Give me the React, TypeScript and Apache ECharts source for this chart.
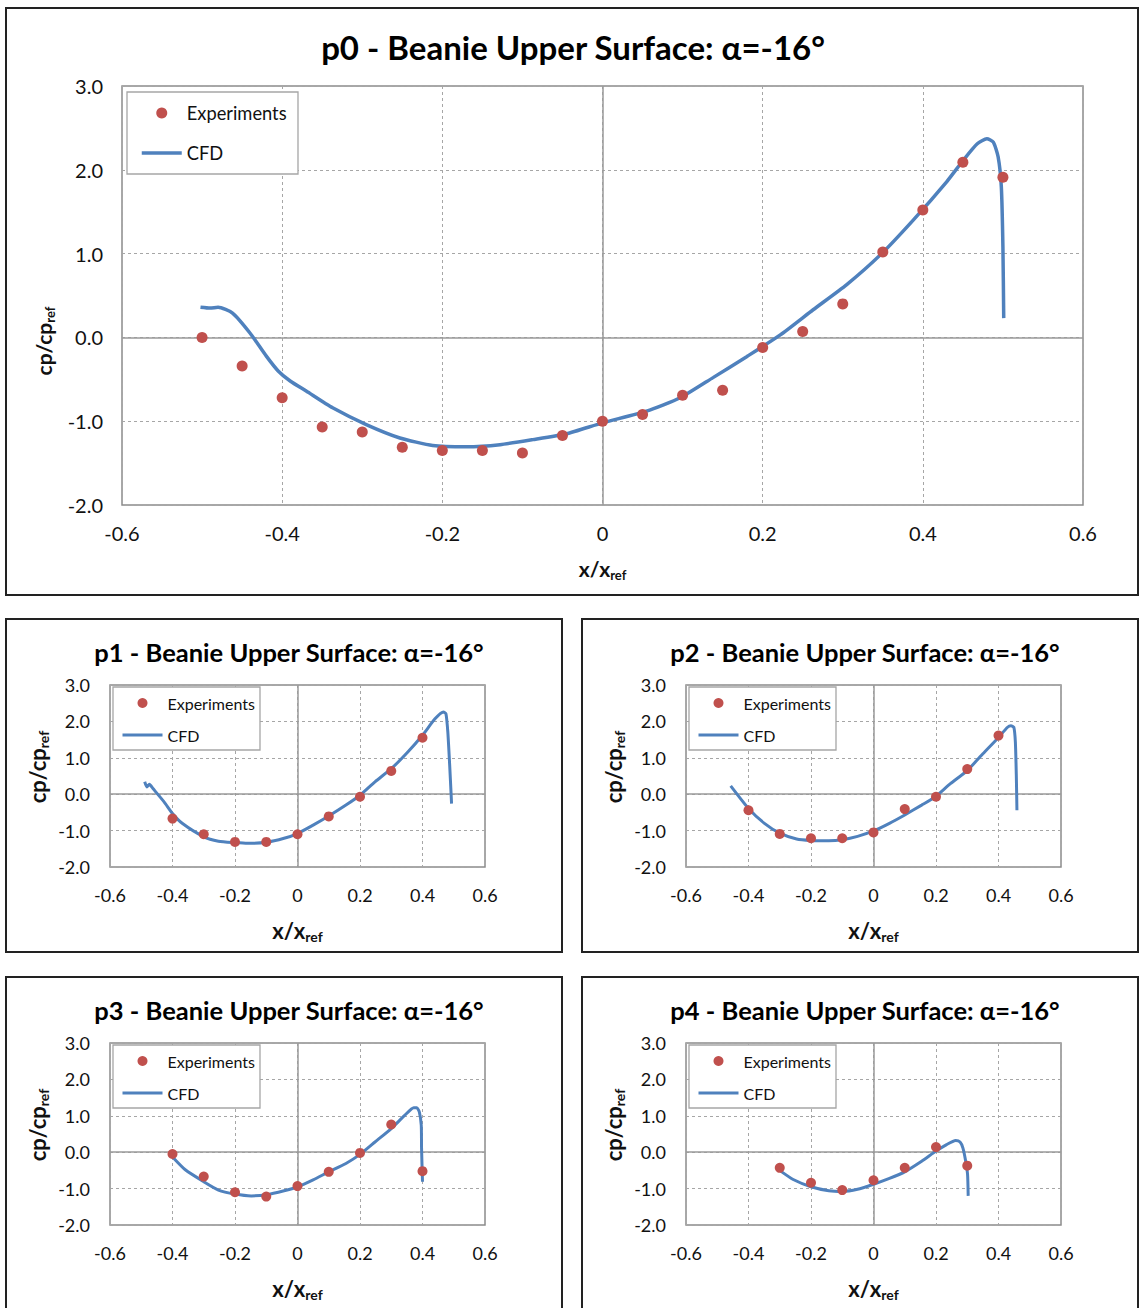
import React, { useEffect, useRef } from "react";
import * as echarts from "echarts";

// ---------- DATA ----------
const xTicks = [-0.6, -0.4, -0.2, 0, 0.2, 0.4, 0.6];
const yTicks = [-2, -1, 0, 1, 2, 3];
const panelTitles = [
  "p0 - Beanie Upper Surface: α=-16°",
  "p1 - Beanie Upper Surface: α=-16°",
  "p2 - Beanie Upper Surface: α=-16°",
  "p3 - Beanie Upper Surface: α=-16°",
  "p4 - Beanie Upper Surface: α=-16°",
];
const seriesNames = ["Experiments", "CFD"];

const p0ExpX = [-0.5, -0.45, -0.4, -0.35, -0.3, -0.25, -0.2, -0.15, -0.1, -0.05, 0, 0.05, 0.1, 0.15, 0.2, 0.25, 0.3, 0.35, 0.4, 0.45, 0.5];
const p0ExpY = [0.0, -0.34, -0.72, -1.07, -1.13, -1.31, -1.35, -1.35, -1.38, -1.17, -1.0, -0.92, -0.69, -0.63, -0.12, 0.07, 0.4, 1.02, 1.52, 2.09, 1.91];
const p0CfdX = [-0.502, -0.49, -0.48, -0.462, -0.44, -0.42, -0.405, -0.39, -0.37, -0.337, -0.295, -0.253, -0.212, -0.17, -0.128, -0.087, -0.045, 0.0, 0.055, 0.097, 0.138, 0.18, 0.222, 0.263, 0.305, 0.347, 0.388, 0.43, 0.451, 0.468, 0.48, 0.488, 0.494, 0.498, 0.5, 0.501];
const p0CfdY = [0.36, 0.35, 0.36, 0.29, 0.05, -0.22, -0.4, -0.52, -0.64, -0.84, -1.04, -1.2, -1.29, -1.305, -1.28, -1.22, -1.15, -1.02, -0.88, -0.72, -0.48, -0.23, 0.03, 0.33, 0.63, 0.985, 1.4, 1.86, 2.12, 2.31, 2.37, 2.33, 2.155, 1.8, 1.08, 0.23];

const p1ExpX = [-0.4, -0.3, -0.2, -0.1, 0, 0.1, 0.2, 0.3, 0.4];
const p1ExpY = [-0.67, -1.1, -1.31, -1.31, -1.1, -0.61, -0.07, 0.64, 1.55];
const p1CfdX = [-0.489, -0.482, -0.474, -0.4625, -0.427, -0.4, -0.369, -0.3, -0.253, -0.2, -0.16, -0.1, -0.043, 0, 0.05, 0.1, 0.155, 0.2, 0.248, 0.3, 0.353, 0.4, 0.44, 0.467, 0.475, 0.481, 0.487, 0.493];
const p1CfdY = [0.34, 0.2, 0.27, 0.155, -0.21, -0.53, -0.8, -1.17, -1.29, -1.33, -1.35, -1.32, -1.21, -1.08, -0.85, -0.6, -0.3, -0.03, 0.34, 0.7, 1.16, 1.62, 2.07, 2.26, 2.21, 1.71, 0.79, -0.26];

const p2ExpX = [-0.4, -0.3, -0.2, -0.1, 0, 0.1, 0.2, 0.3, 0.4];
const p2ExpY = [-0.44, -1.09, -1.21, -1.21, -1.05, -0.41, -0.07, 0.69, 1.61];
const p2CfdX = [-0.457, -0.4, -0.349, -0.3, -0.246, -0.2, -0.143, -0.1, -0.051, 0, 0.051, 0.1, 0.154, 0.198, 0.246, 0.3, 0.35, 0.4, 0.429, 0.44, 0.449, 0.454, 0.457, 0.459];
const p2CfdY = [0.23, -0.39, -0.8, -1.07, -1.23, -1.27, -1.28, -1.25, -1.16, -1.01, -0.8, -0.57, -0.3, -0.07, 0.29, 0.65, 1.11, 1.56, 1.84, 1.88, 1.84, 1.43, 0.52, -0.44];

const p3ExpX = [-0.4, -0.3, -0.2, -0.1, 0, 0.1, 0.2, 0.3, 0.4];
const p3ExpY = [-0.05, -0.67, -1.1, -1.22, -0.93, -0.54, -0.02, 0.76, -0.52];
const p3CfdX = [-0.4, -0.358, -0.3, -0.253, -0.2, -0.148, -0.1, -0.043, 0, 0.05, 0.1, 0.155, 0.2, 0.248, 0.3, 0.343, 0.372, 0.382, 0.39, 0.396, 0.397, 0.4];
const p3CfdY = [-0.13, -0.49, -0.81, -1.04, -1.15, -1.2, -1.17, -1.06, -0.95, -0.76, -0.54, -0.31, -0.06, 0.28, 0.65, 1.01, 1.22, 1.22, 1.1, 0.74, 0.1, -0.81];

const p4ExpX = [-0.3, -0.2, -0.1, 0, 0.1, 0.2, 0.3];
const p4ExpY = [-0.43, -0.84, -1.04, -0.77, -0.43, 0.14, -0.37];
const p4CfdX = [-0.297, -0.257, -0.2, -0.143, -0.1, -0.051, 0, 0.051, 0.1, 0.154, 0.2, 0.234, 0.263, 0.277, 0.286, 0.294, 0.301, 0.303];
const p4CfdY = [-0.52, -0.75, -0.95, -1.06, -1.08, -1.02, -0.88, -0.72, -0.54, -0.25, 0.03, 0.21, 0.32, 0.28, 0.12, -0.2, -0.61, -1.2];

const expXs = [p0ExpX, p1ExpX, p2ExpX, p3ExpX, p4ExpX];
const expYs = [p0ExpY, p1ExpY, p2ExpY, p3ExpY, p4ExpY];
const cfdXs = [p0CfdX, p1CfdX, p2CfdX, p3CfdX, p4CfdX];
const cfdYs = [p0CfdY, p1CfdY, p2CfdY, p3CfdY, p4CfdY];

// ---------- LAYOUT / STYLE ----------
const FONT = 'Lato, "Liberation Sans", "DejaVu Sans", sans-serif';
const RED = "#C0504D";
const BLUE = "#4F81BD";
const GRID_GRAY = "#a6a6a6";
const TEXT = "#111";

type Layout = {
  grid: { left: number; top: number; width: number; height: number };
  box: [number, number, number, number];
  legendBox: [number, number, number, number];
  legendPos: [number, number];
  titlePos: [number, number];
  big: boolean;
};

const layouts: Layout[] = [
  { grid: { left: 122, top: 86, width: 961, height: 419 }, box: [6, 8, 1132, 587], legendBox: [127, 92, 171, 82], legendPos: [140, 103], titlePos: [573, 29], big: true },
  { grid: { left: 110, top: 685, width: 375, height: 182 }, box: [6, 619, 556, 333], legendBox: [113, 687, 147, 63], legendPos: [121, 694], titlePos: [289, 637], big: false },
  { grid: { left: 686, top: 685, width: 375, height: 182 }, box: [582, 619, 556, 333], legendBox: [689, 687, 147, 63], legendPos: [697, 694], titlePos: [865, 637], big: false },
  { grid: { left: 110, top: 1043, width: 375, height: 182 }, box: [6, 977, 556, 340], legendBox: [113, 1045, 147, 63], legendPos: [121, 1052], titlePos: [289, 995], big: false },
  { grid: { left: 686, top: 1043, width: 375, height: 182 }, box: [582, 977, 556, 340], legendBox: [689, 1045, 147, 63], legendPos: [697, 1052], titlePos: [865, 995], big: false },
];

function buildOption() {
  const title: any[] = [];
  const grid: any[] = [];
  const xAxis: any[] = [];
  const yAxis: any[] = [];
  const legend: any[] = [];
  const series: any[] = [];
  const graphic: any[] = [];

  layouts.forEach((L, i) => {
    const big = L.big;
    const nameSize = big ? 21 : 22;
    const subSize = big ? 13 : 14;
    title.push({
      text: panelTitles[i],
      left: L.titlePos[0],
      top: L.titlePos[1],
      textAlign: "center",
      padding: 0,
      textStyle: {
        fontFamily: FONT,
        fontWeight: "bold",
        fontSize: big ? 33 : 25.5,
        lineHeight: big ? 36 : 30,
        color: "#000",
      },
    });
    grid.push({
      ...L.grid,
      show: true,
      borderColor: "#8c8c8c",
      borderWidth: 1.5,
      backgroundColor: "transparent",
    });
    const nameTextStyleBase = {
      fontFamily: FONT,
      fontWeight: "bold",
      fontSize: nameSize,
      lineHeight: 26,
      color: TEXT,
      rich: { s: { fontFamily: FONT, fontWeight: "bold", fontSize: subSize, verticalAlign: "bottom", color: TEXT } },
    };
    xAxis.push({
      type: "value",
      gridIndex: i,
      min: xTicks[0],
      max: xTicks[xTicks.length - 1],
      interval: 0.2,
      axisLine: { show: false },
      axisTick: { show: false },
      axisLabel: {
        fontFamily: FONT,
        fontSize: big ? 20 : 18,
        color: TEXT,
        margin: big ? 18 : 19,
        formatter: (v: number) => {
          const r = Math.round(v * 10) / 10;
          return r === 0 ? "0" : String(r);
        },
      },
      splitLine: { show: true, lineStyle: { color: GRID_GRAY, type: [3, 3], width: 1 } },
      name: "x/x{s|ref}",
      nameLocation: "middle",
      nameGap: 50,
      nameTextStyle: nameTextStyleBase,
    });
    yAxis.push({
      type: "value",
      gridIndex: i,
      min: yTicks[0],
      max: yTicks[yTicks.length - 1],
      interval: 1,
      axisLine: { show: false },
      axisTick: { show: false },
      axisLabel: {
        fontFamily: FONT,
        fontSize: big ? 20 : 18,
        color: TEXT,
        margin: big ? 19 : 20,
        formatter: (v: number) => v.toFixed(1),
      },
      splitLine: { show: true, lineStyle: { color: GRID_GRAY, type: [3, 3], width: 1 } },
      name: "cp/cp{s|ref}",
      nameLocation: "middle",
      nameGap: big ? 63 : 60,
      nameTextStyle: {
        ...nameTextStyleBase,
        padding: big ? [0, 91, 0, 0] : [0, 0, 0, 18],
      },
    });
    legend.push({
      data: [
        { name: seriesNames[0], icon: "circle", itemStyle: { color: RED, opacity: 1 } },
        {
          name: seriesNames[1],
          itemStyle: { color: "rgba(0,0,0,0)", borderWidth: 0, opacity: 0 },
          lineStyle: { color: BLUE, width: big ? 3.5 : 3, opacity: 1 },
        },
      ],
      orient: "vertical",
      left: L.legendPos[0],
      top: L.legendPos[1],
      padding: 0,
      itemWidth: 40,
      itemHeight: big ? 11 : 10,
      itemGap: big ? 20 : 14,
      itemTextGap: big ? 5 : 3,
      z: 5,
      selectedMode: false,
      textStyle: {
        fontFamily: FONT,
        fontSize: big ? 18.3 : 16,
        lineHeight: big ? 20 : 18,
        color: TEXT,
      },
    });
    const exp = expXs[i].map((x, k) => [x, expYs[i][k]]);
    const cfd = cfdXs[i].map((x, k) => [x, cfdYs[i][k]]);
    series.push({
      type: "line",
      name: "CFD",
      xAxisIndex: i,
      yAxisIndex: i,
      data: cfd,
      symbol: "none",
      smooth: 0.2,
      lineStyle: { color: BLUE, width: big ? 3.5 : 3 },
      itemStyle: { color: BLUE },
      z: 2,
      markLine: {
        silent: true,
        symbol: ["none", "none"],
        z: 1,
        label: { show: false },
        lineStyle: { color: "#9a9a9a", type: "solid", width: 1.5 },
        data: [{ xAxis: 0 }, { yAxis: 0 }],
      },
    });
    series.push({
      type: "scatter",
      name: "Experiments",
      xAxisIndex: i,
      yAxisIndex: i,
      data: exp,
      symbol: "circle",
      symbolSize: big ? 11 : 10,
      itemStyle: { color: RED, opacity: 1 },
      z: 3,
    });
    graphic.push({
      type: "rect",
      z: 4,
      shape: { x: L.legendBox[0], y: L.legendBox[1], width: L.legendBox[2], height: L.legendBox[3] },
      style: { fill: "#fff", stroke: "#a6a6a6", lineWidth: 1.3 },
    });
    graphic.push({
      type: "rect",
      z: 10,
      shape: { x: L.box[0], y: L.box[1], width: L.box[2], height: L.box[3] },
      style: { fill: "none", stroke: "#222", lineWidth: 2 },
    });
  });

  return {
    animation: false,
    backgroundColor: "#fff",
    title,
    grid,
    xAxis,
    yAxis,
    legend,
    series,
    graphic,
  };
}

export default function App() {
  const ref = useRef<HTMLDivElement>(null);
  useEffect(() => {
    if (!ref.current) return;
    const chart = echarts.init(ref.current, undefined, { renderer: "svg" });
    chart.setOption(buildOption() as any);
    return () => chart.dispose();
  }, []);
  return (
    <div
      ref={ref}
      style={{ position: "absolute", left: 0, top: 0, width: 1139, height: 1308, background: "#fff" }}
    />
  );
}
